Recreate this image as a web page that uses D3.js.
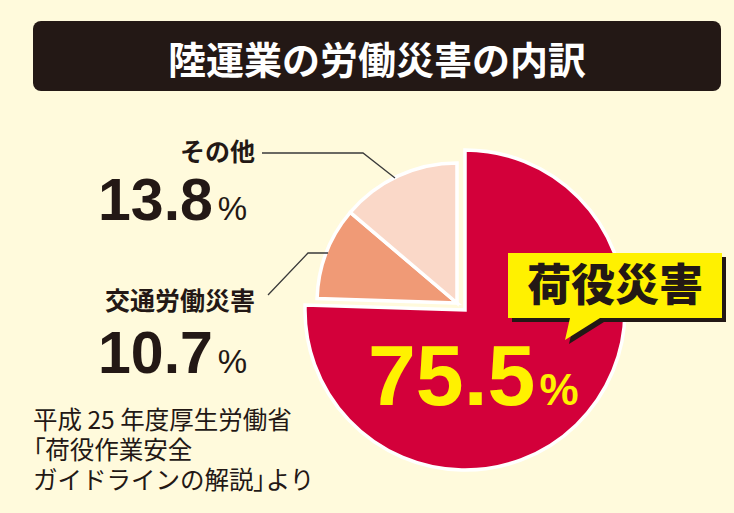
<!DOCTYPE html>
<html><head><meta charset="utf-8">
<script src="https://cdn.jsdelivr.net/npm/d3@7"></script>
<style>html,body{margin:0;padding:0;background:#fffadc;}svg{display:block;}.p{font-feature-settings:"palt";}</style>
</head><body>
<svg id="c" width="734" height="513"></svg>
<script>
const title = "陸運業の労働災害の内訳";
const categories = ["荷役災害", "交通労働災害", "その他"];
const values = [75.5, 10.7, 13.8];
const colors = ["#d3003a", "#f09a76", "#fad8c8"];
const sourceLines = [["平成 25 年度厚生労働省"], ["「", "荷役作業安全"], ["ガイドラインの解説", "」", "より"]];

const JP = "'Noto Sans CJK JP', sans-serif";
const NUM = "'Liberation Sans', Arial, sans-serif";
const svg = d3.select("#c");
svg.append("rect").attr("width", 734).attr("height", 513).attr("fill", "#fffadc");

// title bar
svg.append("rect").attr("x", 33).attr("y", 21).attr("width", 688).attr("height", 70).attr("rx", 8).attr("fill", "#231815");
svg.append("text").attr("x", 377).attr("y", 74).attr("text-anchor", "middle").attr("fill", "#fff")
  .attr("font-family", JP).attr("font-weight", 700).attr("font-size", 38).text(title);

// pie
const pie = d3.pie().sort(null).value(d => d)(values);
const cx = 465, cy = 310;
const arcBig = d3.arc().innerRadius(0).outerRadius(160);
const arcSmall = d3.arc().innerRadius(0).outerRadius(140);
const g = svg.append("g");
pie.forEach((p, i) => {
  const big = i === 0;
  g.append("path")
    .attr("transform", big ? `translate(${cx},${cy})` : `translate(${cx - 8},${cy - 7})`)
    .attr("d", big ? arcBig(p) : arcSmall(p))
    .attr("fill", colors[i]).attr("stroke", "#fff").attr("stroke-width", 3.5).attr("stroke-linejoin", "miter");
});

// leader lines
const line = d3.line();
svg.append("path").attr("d", line([[262, 153], [363, 153], [395, 178]])).attr("fill", "none").attr("stroke", "#3a3a3a").attr("stroke-width", 1.3);
svg.append("path").attr("d", line([[268, 295], [308, 253], [328, 253]])).attr("fill", "none").attr("stroke", "#3a3a3a").attr("stroke-width", 1.3);

// left labels
function label(name, val, yName, yVal) {
  svg.append("text").attr("x", 255).attr("y", yName).attr("text-anchor", "end").attr("fill", "#231815")
    .attr("font-family", JP).attr("font-weight", 700).attr("font-size", 25).text(name);
  const t = svg.append("text").attr("x", 98).attr("y", yVal).attr("fill", "#231815").attr("font-family", NUM);
  t.append("tspan").attr("font-weight", 700).attr("font-size", 59).text(val.toFixed(1));
  t.append("tspan").attr("font-size", 33).attr("dx", 5).text("%");
}
label(categories[2], values[2], 161, 220);
label(categories[1], values[1], 310, 373);

// callout
const cal = svg.append("g");
const boxPts = [[508, 253], [722, 253], [722, 318], [600, 318], [565, 340], [570, 318], [508, 318]];
cal.append("path").attr("d", line(boxPts) + "Z").attr("transform", "translate(4,4)").attr("fill", "#231815");
cal.append("path").attr("d", line(boxPts) + "Z").attr("fill", "#fff100");
cal.append("text").attr("x", 615).attr("y", 301).attr("text-anchor", "middle").attr("fill", "#231815")
  .attr("font-family", JP).attr("font-weight", 900).attr("font-size", 44).text(categories[0]);

const bt = svg.append("text").attr("x", 368).attr("y", 405).attr("fill", "#fff100").attr("font-family", NUM);
bt.append("tspan").attr("font-weight", 700).attr("font-size", 86).text(values[0].toFixed(1));
bt.append("tspan").attr("font-weight", 700).attr("font-size", 44).attr("dx", 4).text("%");

// source
sourceLines.forEach((parts, i) => {
  const t = svg.append("text").attr("x", 33).attr("y", 429 + i * 30).attr("fill", "#231815")
    .attr("font-family", JP).attr("font-size", 24.5);
  parts.forEach(s => t.append("tspan").attr("class", (s === "「" || s === "」") ? "p" : null).text(s));
});
</script>
</body></html>
